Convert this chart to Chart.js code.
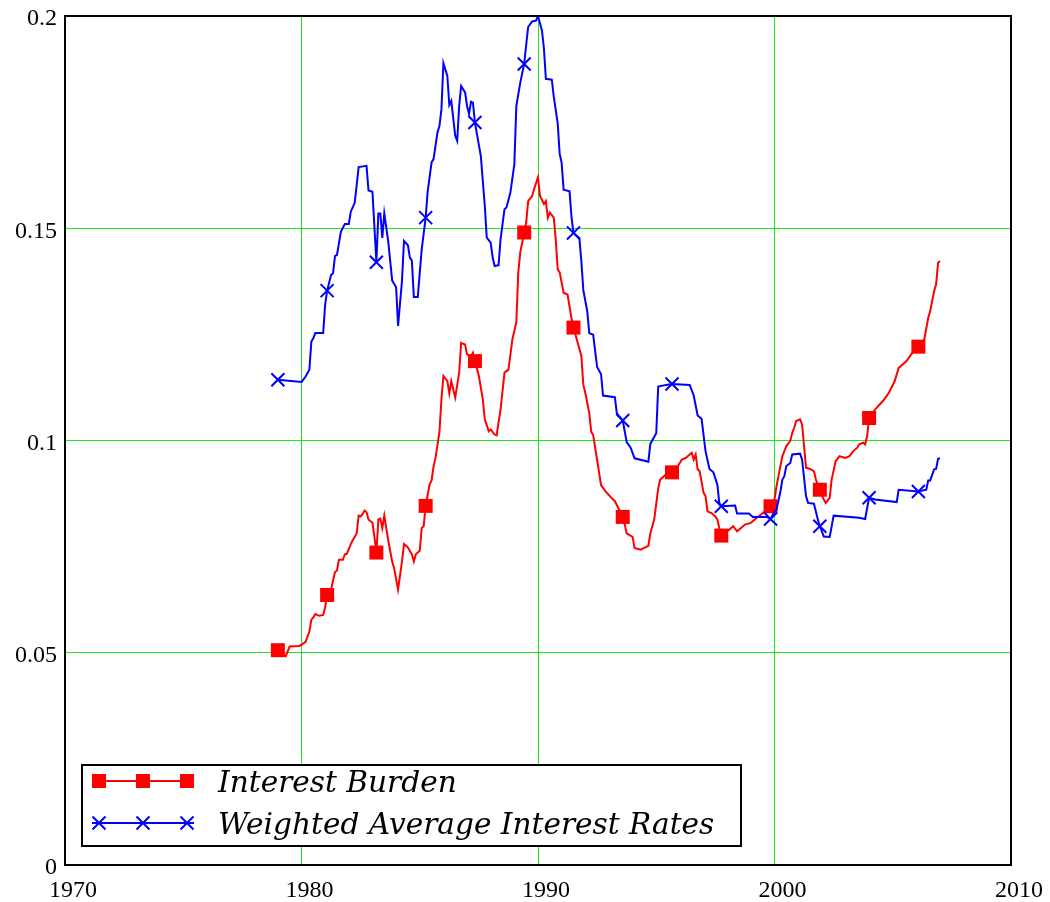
<!DOCTYPE html>
<html><head><meta charset="utf-8">
<script src="https://cdn.jsdelivr.net/npm/chart.js@4.4.0/dist/chart.umd.min.js"></script>
<style>html,body{margin:0;padding:0;background:#fff;}#wrap{width:1050px;height:902px;}</style>
</head><body><div id="wrap"><canvas id="c" width="1050" height="902"></canvas></div>
<script>
const START_YEAR = 1979;       // month index 0
const MARKER_EVERY = 25;       // a marker every 25 monthly points
const seriesNames = ['Interest Burden', 'Weighted Average Interest Rates'];
const xTicks = [1970, 1980, 1990, 2000, 2010];
const yTicks = [0, 0.05, 0.1, 0.15, 0.2];
const yTickLabels = ['0', '0.05', '0.1', '0.15', '0.2'];

// [month index since Jan 1979, value]
const burdenSeries = [[0,0.0506],[4,0.0492],[6,0.0515],[11,0.0516],[14,0.0525],[16,0.055],[17,0.0578],[18,0.0583],[19,0.0591],[21,0.0587],[23,0.0589],[24,0.0607],[25,0.0636],[27,0.0649],[28,0.067],[29,0.069],[30,0.0694],[31,0.0719],[33,0.0719],[34,0.0732],[35,0.0733],[37,0.0756],[38,0.0765],[40,0.0781],[41,0.0823],[42,0.0821],[43,0.0827],[44,0.0835],[45,0.0831],[46,0.0814],[48,0.0806],[49,0.0773],[50,0.0736],[51,0.0814],[52,0.0816],[53,0.0794],[54,0.0823],[56,0.0765],[58,0.0715],[59,0.0699],[61,0.0649],[63,0.0715],[64,0.0756],[66,0.0748],[68,0.0732],[69,0.0715],[70,0.0732],[72,0.074],[73,0.0794],[74,0.0798],[75,0.0846],[77,0.0897],[78,0.0906],[79,0.0939],[80,0.0959],[82,0.102],[83,0.1097],[84,0.1152],[86,0.114],[87,0.1111],[88,0.114],[90,0.1101],[92,0.116],[93,0.123],[95,0.1226],[96,0.1203],[98,0.1199],[99,0.1207],[100,0.1187],[102,0.1152],[104,0.1097],[105,0.105],[107,0.1022],[108,0.1026],[110,0.1014],[111,0.1012],[113,0.1073],[115,0.116],[117,0.1167],[119,0.1238],[121,0.1278],[122,0.1396],[123,0.1443],[125,0.149],[126,0.1513],[127,0.1564],[129,0.1576],[130,0.1592],[132,0.162],[133,0.1576],[135,0.1557],[136,0.1564],[137,0.1525],[138,0.1537],[140,0.1525],[141,0.1474],[142,0.1403],[143,0.1396],[145,0.1348],[147,0.1344],[149,0.1288],[150,0.1266],[154,0.1199],[155,0.1131],[156,0.1112],[157,0.1089],[158,0.1065],[159,0.1021],[160,0.1013],[162,0.0954],[164,0.0895],[166,0.0882],[169,0.0866],[171,0.0857],[175,0.082],[176,0.0802],[177,0.0781],[180,0.0773],[181,0.0747],[184,0.0743],[188,0.0752],[189,0.0781],[191,0.0815],[193,0.0887],[194,0.0908],[197,0.092],[200,0.0925],[202,0.0932],[205,0.0955],[207,0.0959],[209,0.0967],[210,0.0971],[211,0.0955],[212,0.0967],[213,0.0932],[214,0.0928],[216,0.0877],[217,0.0869],[218,0.0833],[220,0.0829],[222,0.0821],[223,0.0814],[224,0.0794],[225,0.0776],[229,0.079],[231,0.0798],[233,0.0786],[235,0.0794],[237,0.0802],[240,0.0806],[242,0.0814],[245,0.0825],[247,0.0833],[250,0.0845],[252,0.0861],[253,0.0892],[255,0.094],[256,0.0963],[258,0.0987],[260,0.0999],[261,0.1018],[262,0.103],[263,0.1046],[265,0.105],[266,0.1038],[267,0.0987],[268,0.0936],[270,0.0933],[272,0.0928],[273,0.0908],[275,0.0884],[277,0.0861],[278,0.0853],[280,0.0865],[281,0.0908],[283,0.0951],[285,0.0963],[288,0.0959],[290,0.0963],[292,0.0975],[294,0.0983],[295,0.0991],[297,0.0995],[298,0.0991],[299,0.101],[300,0.1053],[303,0.1073],[307,0.1093],[310,0.1112],[313,0.114],[315,0.1171],[319,0.1187],[322,0.1207],[325,0.1221],[328,0.1238],[330,0.1289],[331,0.1305],[333,0.1352],[334,0.1368],[335,0.1419],[336,0.1423]];

const rateSeries = [[0,0.1143],[12,0.1138],[14,0.115],[16,0.1167],[17,0.1233],[18,0.1241],[19,0.1253],[23,0.1253],[24,0.132],[25,0.1353],[27,0.139],[28,0.1394],[29,0.1435],[30,0.1437],[32,0.1492],[34,0.151],[36,0.151],[37,0.1539],[39,0.156],[41,0.1644],[45,0.1647],[46,0.1589],[48,0.1586],[50,0.142],[51,0.1535],[52,0.1535],[53,0.1477],[54,0.1535],[56,0.1469],[58,0.1377],[60,0.1361],[61,0.127],[63,0.1377],[64,0.147],[66,0.146],[67,0.1431],[68,0.1424],[69,0.1338],[71,0.1338],[72,0.1395],[73,0.145],[75,0.1525],[76,0.1586],[78,0.1655],[79,0.1663],[81,0.1726],[82,0.1741],[83,0.178],[84,0.1889],[86,0.1859],[87,0.179],[88,0.18],[90,0.1718],[91,0.1706],[92,0.1788],[93,0.1835],[95,0.182],[96,0.1788],[97,0.1769],[98,0.1798],[99,0.1796],[100,0.1749],[103,0.167],[105,0.1553],[106,0.1478],[108,0.1466],[109,0.1431],[110,0.1411],[112,0.1413],[113,0.1474],[115,0.1545],[116,0.1549],[118,0.1584],[120,0.1651],[121,0.1788],[123,0.1843],[125,0.1887],[126,0.1932],[127,0.1974],[129,0.1987],[131,0.1989],[132,0.2],[134,0.1966],[135,0.1924],[136,0.1852],[139,0.185],[140,0.181],[142,0.1747],[143,0.1675],[144,0.1654],[145,0.1591],[148,0.1587],[149,0.1527],[150,0.1489],[153,0.1477],[154,0.1422],[155,0.1354],[157,0.1304],[158,0.1253],[160,0.1249],[162,0.1173],[164,0.1156],[165,0.1106],[171,0.1102],[172,0.1064],[175,0.1047],[177,0.0996],[179,0.0983],[181,0.0958],[188,0.095],[189,0.0992],[192,0.1017],[193,0.1127],[197,0.1131],[200,0.1133],[209,0.1131],[211,0.1106],[213,0.1059],[215,0.1051],[217,0.0975],[219,0.0933],[221,0.0925],[223,0.0896],[224,0.0853],[225,0.0845],[232,0.0847],[233,0.0828],[239,0.0828],[241,0.082],[248,0.082],[250,0.0815],[252,0.0833],[253,0.0837],[255,0.088],[256,0.0908],[257,0.0916],[258,0.094],[260,0.0947],[261,0.0967],[265,0.0969],[266,0.0955],[268,0.0869],[269,0.0853],[272,0.0851],[274,0.0814],[275,0.0798],[277,0.0774],[280,0.0773],[282,0.0823],[295,0.0818],[298,0.0815],[300,0.0865],[303,0.0861],[314,0.0855],[315,0.0884],[325,0.088],[329,0.0884],[330,0.0906],[331,0.0906],[333,0.0932],[334,0.0933],[335,0.0957],[336,0.0958]];

const RED = '#ff0000', BLUE = '#0000ff', GRID = 'rgb(30,230,30)';
const TICK_FAMILY = "'Liberation Serif', serif";
const LEGEND_FAMILY = "'DejaVu Serif', serif";
Chart.defaults.font.family = TICK_FAMILY;

function toPoints(series) {
  return series.map(([m, v]) => ({ x: START_YEAR + m / 12, y: v, m: m }));
}
const isMarker = ctx => ctx.raw && ctx.raw.m % MARKER_EVERY === 0;

function drawMarker(ctx, style, x, y, color) {
  ctx.save();
  ctx.fillStyle = color; ctx.strokeStyle = color; ctx.lineWidth = 2;
  if (style === 'rect') {
    ctx.fillRect(x - 7, y - 7, 14, 14);
  } else {
    ctx.beginPath();
    ctx.moveTo(x - 6.5, y - 6.5); ctx.lineTo(x + 6.5, y + 6.5);
    ctx.moveTo(x + 6.5, y - 6.5); ctx.lineTo(x - 6.5, y + 6.5);
    ctx.stroke();
  }
  ctx.restore();
}

const frameAndLegend = {
  id: 'frameAndLegend',
  afterDraw(chart) {
    const ctx = chart.ctx, a = chart.chartArea;
    ctx.save();
    ctx.strokeStyle = '#000'; ctx.lineWidth = 2;
    ctx.strokeRect(a.left, a.top, a.right - a.left, a.bottom - a.top);
    const bx = 82, by = 765, bw = 659, bh = 81;
    ctx.fillStyle = '#fff';
    ctx.fillRect(bx, by, bw, bh);
    ctx.strokeRect(bx, by, bw, bh);
    ctx.font = 'italic 100px ' + LEGEND_FAMILY;
    const fs = Math.min(34, 100 * 496 / ctx.measureText(seriesNames[1]).width);
    const rows = [
      { y: 781, color: RED, style: 'rect', label: seriesNames[0] },
      { y: 823, color: BLUE, style: 'cross', label: seriesNames[1] }
    ];
    rows.forEach(r => {
      ctx.strokeStyle = r.color; ctx.lineWidth = 2;
      ctx.beginPath(); ctx.moveTo(92, r.y); ctx.lineTo(194, r.y); ctx.stroke();
      [99, 143, 187].forEach(mx => drawMarker(ctx, r.style, mx, r.y, r.color));
      ctx.fillStyle = '#000';
      ctx.font = 'italic ' + fs.toFixed(1) + 'px ' + LEGEND_FAMILY;
      ctx.textBaseline = 'alphabetic'; ctx.textAlign = 'left';
      ctx.fillText(r.label, 218, r.y + 11);
    });
    ctx.restore();
  }
};

new Chart(document.getElementById('c'), {
  type: 'line',
  data: {
    datasets: [
      { label: seriesNames[0], data: toPoints(burdenSeries), borderColor: RED, backgroundColor: RED,
        borderWidth: 2, pointStyle: 'rect', pointRadius: ctx => isMarker(ctx) ? 9.9 : 0,
        pointBorderWidth: 0, pointHoverRadius: 0, tension: 0, order: 1 },
      { label: seriesNames[1], data: toPoints(rateSeries), borderColor: BLUE, backgroundColor: BLUE,
        borderWidth: 2, pointStyle: 'crossRot', pointRadius: ctx => isMarker(ctx) ? 9.2 : 0,
        pointBorderWidth: 2, pointHoverRadius: 0, tension: 0, order: 0 }
    ]
  },
  options: {
    responsive: false, animation: false, devicePixelRatio: 1,
    layout: { padding: { top: 16, right: 39, left: 0, bottom: 0 } },
    plugins: { legend: { display: false }, tooltip: { enabled: false } },
    scales: {
      x: {
        type: 'linear', min: 1970, max: 2010,
        afterBuildTicks: s => { s.ticks = xTicks.map(v => ({ value: v })); },
        afterFit: s => { s.height = 37; s.paddingLeft = 0; s.paddingRight = 0; },
        ticks: { color: '#000', font: { family: TICK_FAMILY, size: 24 }, padding: 11, maxRotation: 0,
                 labelOffset: 8, callback: v => String(v) },
        grid: { drawTicks: false, lineWidth: 1,
                color: c => (c.tick && (c.tick.value === 1970 || c.tick.value === 2010)) ? 'rgba(0,0,0,0)' : GRID },
        border: { display: false }
      },
      y: {
        type: 'linear', min: 0, max: 0.2,
        afterBuildTicks: s => { s.ticks = yTicks.map(v => ({ value: v })); },
        afterFit: s => { s.width = 65; s.paddingTop = 0; s.paddingBottom = 0; },
        ticks: { color: '#000', font: { family: TICK_FAMILY, size: 24 }, padding: 8, labelOffset: 3,
                 callback: (v, i) => yTickLabels[i] },
        grid: { drawTicks: false, lineWidth: 1,
                color: c => (c.tick && (c.tick.value === 0 || c.tick.value === 0.2)) ? 'rgba(0,0,0,0)' : GRID },
        border: { display: false }
      }
    }
  },
  plugins: [frameAndLegend]
});
</script>
</body></html>
